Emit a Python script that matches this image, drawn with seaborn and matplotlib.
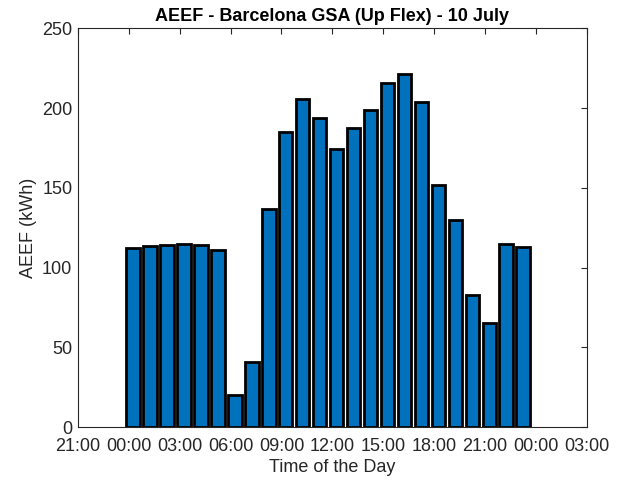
import pandas as pd
import matplotlib
matplotlib.use("Agg")
import matplotlib.pyplot as plt
import seaborn as sns

# ------------------------------------------------------
# Data: hourly AEEF values for 10 July
# ------------------------------------------------------
hours = list(range(24))
aeef_kwh = [112, 113.5, 114, 115, 114, 111, 20, 40.5, 136.5, 185, 205.5, 193.5,
            174, 187.5, 199, 215.5, 221.5, 203.5, 151.5, 130, 82.5, 65.5, 114.5, 113]

tick_hours = [-3, 0, 3, 6, 9, 12, 15, 18, 21, 24, 27]
tick_labels = ["21:00", "00:00", "03:00", "06:00", "09:00", "12:00",
               "15:00", "18:00", "21:00", "00:00", "03:00"]
y_ticks = [0, 50, 100, 150, 200, 250]

# bars in the original sit a quarter past each hour
bar_offset = 0.25
df = pd.DataFrame({"Hour": [h + bar_offset for h in hours], "AEEF": aeef_kwh})

# ------------------------------------------------------
# Plot
# ------------------------------------------------------
sns.set_theme(style="white")
plt.rcParams['font.family'] = ['Liberation Sans', 'DejaVu Sans']
grey = "#262626"

fig = plt.figure(figsize=(6.23, 4.87), dpi=100)
ax = fig.add_axes([0.125, 0.123, 0.817, 0.819])

sns.barplot(data=df, x="Hour", y="AEEF", native_scale=True, width=0.8,
            color="#0072BD", saturation=1, edgecolor="black", linewidth=2, ax=ax)

ax.set_xlim(-3, 27)
ax.set_ylim(0, 250)
ax.set_xticks(tick_hours)
ax.set_xticklabels(tick_labels)
ax.set_yticks(y_ticks)

ax.tick_params(direction="in", top=True, right=True, length=4, width=0.8,
               colors=grey, labelsize=13, labelcolor=grey)
ax.tick_params(axis="x", pad=8)
ax.tick_params(axis="y", pad=4)
for spine in ax.spines.values():
    spine.set_color(grey)
    spine.set_linewidth(0.8)

ax.set_title("AEEF - Barcelona GSA (Up Flex) - 10 July", fontsize=13,
             fontweight="bold", color="black", pad=5)
ax.set_xlabel("Time of the Day", fontsize=13, color=grey, labelpad=3)
ax.set_ylabel("AEEF (kWh)", fontsize=13, color=grey, labelpad=4)

fig.savefig("out.png", dpi=100)
